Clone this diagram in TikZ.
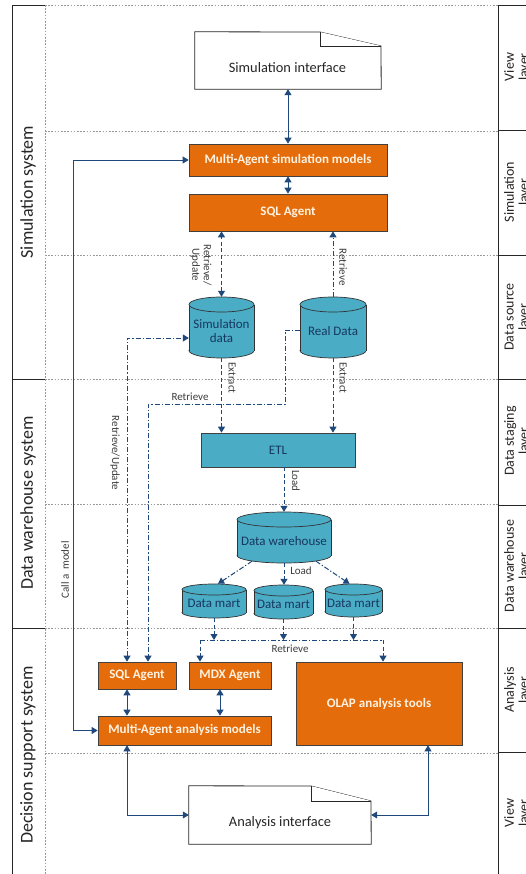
\documentclass[tikz,border=0pt]{standalone}
\usepackage{fontspec}
\setmainfont{Carlito}
\usetikzlibrary{arrows.meta,calc}
\definecolor{orangeb}{RGB}{228,108,10}
\definecolor{blueb}{RGB}{75,172,198}
\definecolor{arrowc}{RGB}{31,73,125}
\definecolor{navytext}{RGB}{23,55,94}
\definecolor{creamtext}{RGB}{255,242,225}
\definecolor{lbltext}{RGB}{60,60,60}
\newcommand\dbcyl[7]{% name, cx, ytop, w, h, ry, text
  \fill[blueb] (#2,{#3+#5-#6}) ellipse [x radius={#4/2}, y radius=#6];
  \draw[cylline] (#2,{#3+#5-#6}) ellipse [x radius={#4/2}, y radius=#6];
  \fill[blueb] ({#2-#4/2},{#3+#6}) rectangle ({#2+#4/2},{#3+#5-#6});
  \draw[cylline] ({#2-#4/2},{#3+#6}) -- ({#2-#4/2},{#3+#5-#6});
  \draw[cylline] ({#2+#4/2},{#3+#6}) -- ({#2+#4/2},{#3+#5-#6});
  \draw[cylline, fill=blueb] (#2,{#3+#6}) ellipse [x radius={#4/2}, y radius=#6];
  \node[inner sep=0, minimum width=#4pt, minimum height=#5pt] (#1) at (#2,{#3+#5/2}) {};
  \node[cyltext] (#1-t) at (#2,{#3+(#6+#5)/2}) {#7};
}
\begin{document}
\begin{tikzpicture}[x=1pt,y=-1pt,
  >={Triangle[width=7pt,length=6pt]},
  frame/.style={draw=black!85, line width=0.8pt},
  layer/.style={draw=black!40, line width=0.7pt, dash pattern=on 1.6pt off 1.6pt},
  obox/.style={draw=black!75, fill=orangeb, line width=0.7pt, text=creamtext, font=\bfseries\fontsize{13}{15}\selectfont, inner sep=0},
  bbox/.style={draw=black!75, fill=blueb, line width=0.7pt, text=navytext, font=\fontsize{13}{15}\selectfont, inner sep=0},
  cylline/.style={draw=black!80, line width=0.7pt},
  cyltext/.style={text=navytext, font=\fontsize{13}{14}\selectfont, align=center, inner sep=0},
  docline/.style={draw=black!85, line width=0.8pt, fill=white},
  doctext/.style={font=\fontsize{14.4}{16}\selectfont, text=black!85, inner sep=0},
  conn/.style={draw=arrowc, line width=1pt},
  thinconn/.style={draw=arrowc, line width=0.8pt},
  dashd/.style={dash pattern=on 4pt off 2.5pt},
  dashdt/.style={dash pattern=on 5pt off 2pt on 1.2pt off 2pt},
  lbl/.style={font=\fontsize{11}{11.5}\selectfont, text=lbltext, inner sep=0, align=center},
  syslabel/.style={font=\fontsize{18}{20}\selectfont, text=black!85, rotate=90, inner sep=0},
  laylabel/.style={font=\fontsize{14}{14.5}\selectfont, text=black!85, rotate=90, inner sep=0, align=center}
]
\clip (0,0) rectangle (526,874);
\fill[white] (0,0) rectangle (526,874);

% frames
\draw[frame] (12,874) -- (12,5) -- (45,5);
\draw[frame] (12,379) -- (45,379);
\draw[frame] (12,628) -- (45,628);
\draw[frame] (526,5) -- (498,5) -- (498,874);
\foreach \yy in {130,255,379,505,628,752} \draw[frame] (498,\yy) -- (526,\yy);
\draw[layer] (45,5) -- (45,874);
\foreach \yy in {5,131,255,379,504,628,753} \draw[layer] (45,\yy) -- (498,\yy);

% system labels
\node[syslabel] (lsim) at (28,192) {Simulation system};
\node[syslabel] (ldw) at (28,503) {Data warehouse system};
\node[syslabel] (ldss) at (28,755) {Decision support system};

% layer labels
\node[laylabel] (r1) at (517.5,67) {View\\layer};
\node[laylabel] (r2) at (517.5,192) {Simulation\\layer};
\node[laylabel] (r3) at (517.5,317) {Data source\\layer};
\node[laylabel] (r4) at (517.5,441) {Data staging\\layer};
\node[laylabel] (r5) at (517.5,566) {Data warehouse\\layer};
\node[laylabel] (r6) at (517.5,690) {Analysis\\layer};
\node[laylabel] (r7) at (517.5,813) {View\\layer};

% simulation interface
\node[inner sep=0, minimum width=186pt, minimum height=57pt] (SimIF) at (288,60.5) {};
\draw[docline] (SimIF.south west) -- (SimIF.north west) -- (320,32) -- (381,46) -- (SimIF.south east) -- cycle;
\draw[docline] (320,32) -- (320,46) -- (381,46);
\node[doctext] (SimIFt) at (287.5,68) {Simulation interface};

% simulation layer
\node[obox, minimum width=198pt, minimum height=32pt] (MASim) at (288,160) {Multi-Agent simulation models};
\node[obox, minimum width=198pt, minimum height=37pt] (SQLtop) at (288,212.5) {SQL Agent};

% data sources
\dbcyl{SimData}{221.5}{297}{65}{61}{7.5}{Simulation\\data}
\dbcyl{RealData}{333}{297}{66}{61}{7.5}{Real Data}

% ETL
\node[bbox, minimum width=154pt, minimum height=34pt] (ETL) at (278,450) {ETL};

% data warehouse
\dbcyl{DW}{284}{512}{94}{51}{7.5}{Data warehouse}
\dbcyl{DM1}{214}{584}{64}{34}{5.5}{Data mart}
\dbcyl{DM2}{283.5}{585}{59}{34}{5.5}{Data mart}
\dbcyl{DM3}{353.5}{584}{57}{33}{5.5}{Data mart}

% analysis layer
\node[obox, minimum width=78pt, minimum height=27pt] (SQLbot) at (137,675.5) {SQL Agent};
\node[obox, minimum width=82pt, minimum height=27pt] (MDX) at (230,675.5) {MDX Agent};
\node[obox, minimum width=166pt, minimum height=83pt] (OLAP) at (379,703.5) {OLAP analysis tools};
\node[obox, minimum width=173pt, minimum height=29pt] (MAAn) at (184.5,730.5) {Multi-Agent analysis models};

% analysis interface
\node[inner sep=0, minimum width=182pt, minimum height=58pt] (AnIF) at (280,815) {};
\draw[docline] (AnIF.south west) -- (AnIF.north west) -- (311,786) -- (371,801) -- (AnIF.south east) -- cycle;
\draw[docline] (311,786) -- (311,801) -- (371,801);
\node[doctext] (AnIFt) at (280,823) {Analysis interface};

% helper coordinates
\coordinate (xa) at (127,0);
\coordinate (xb) at (148,0);
\coordinate (xr) at (285,0);
\coordinate (xm) at (220,0);
\coordinate (xo) at (428,0);
\coordinate (xc) at (73,0);
\coordinate (rL) at (200,640);
\coordinate (rR) at (383,640);

% connectors
\draw[conn,<->] (SimIF.south) -- (MASim.north);
\draw[conn,<->] (MASim.south) -- (SQLtop.north);
\draw[conn,dashd,<->] (SimData.north) -- (SimData.north |- SQLtop.south);
\draw[conn,dashdt,->] (RealData.north) -- (RealData.north |- SQLtop.south);
\draw[conn,dashdt,<->] (xa |- SQLbot.north) |- ([yshift=-10.5pt]SimData.west);
\draw[conn,dashdt,->] ([yshift=-2.5pt]RealData.west) -| (xr |- 0,404) -| (xb |- SQLbot.north);
\draw[conn,dashd,->] (SimData.south) -- (SimData.south |- ETL.north);
\draw[conn,dashd,->] (RealData.south) -- (RealData.south |- ETL.north);
\draw[conn,dashd,->] (DW.north |- ETL.south) -- (DW.north);
\draw[conn,dashdt,->] ($(DW.south)+(-32,-2)$) -- ($(DM1.north)+(4,0)$);
\draw[conn,dashd,->] (DW.south) -- (DW.south |- DM2.north);
\draw[conn,dashdt,->] ($(DW.south)+(32,-2)$) -- ($(DM3.north)+(-4,0)$);
\draw[conn,dashd,->] (DM1.south) -- (DM1.south |- rL);
\draw[conn,dashd,->] (DM2.south) -- (DM2.south |- rL);
\draw[conn,dashd,->] (DM3.south) -- (DM3.south |- rL);
\draw[conn,dashdt] (rL) -- (rR);
\draw[conn,dashd,->] (rL) -- (rL |- MDX.north);
\draw[conn,dashd,->] (rR) -- (rR |- OLAP.north);
\draw[conn,<->] (xa |- SQLbot.south) -- (xa |- MAAn.north);
\draw[conn,<->] (xm |- MDX.south) -- (xm |- MAAn.north);
\draw[thinconn,<->] (xa |- MAAn.south) |- (AnIF.west);
\draw[thinconn,<->] (xo |- OLAP.south) |- (AnIF.east);
\draw[thinconn,<->] (MAAn.west) -| (xc |- MASim.west) -- (MASim.west);

% connector labels
\node[lbl, rotate=-90] (l1) at (201,265) {Retrieve/\\Update};
\node[lbl, rotate=-90] (l2) at (343,267) {Retrieve};
\node[lbl, rotate=-90] (l3) at (232,378) {Extract};
\node[lbl, rotate=-90] (l4) at (343,378) {Extract};
\node[lbl] (l5) at (190,397) {Retrieve};
\node[lbl, rotate=-90] (l6) at (115,453) {Retrieve/Update};
\node[lbl, rotate=-90] (l7) at (296,481) {Load};
\node[lbl] (l8) at (301,571) {Load};
\node[lbl] (l9) at (290,649) {Retrieve};
\node[lbl, rotate=90] (l10) at (65,570) {Call a\ \ model};
\end{tikzpicture}
\end{document}
